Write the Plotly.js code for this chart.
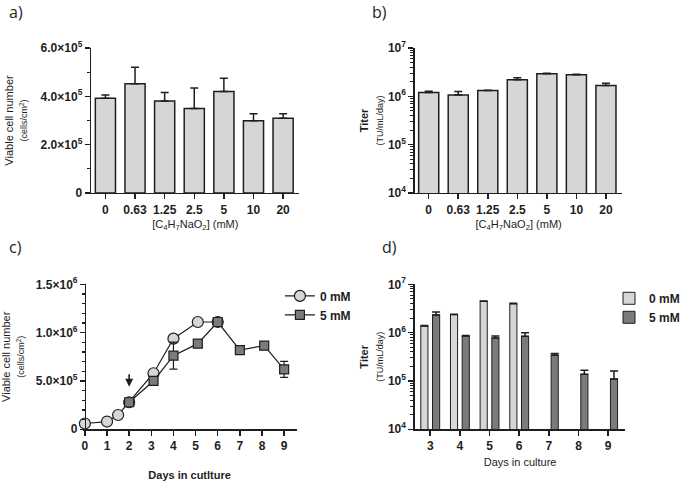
<!DOCTYPE html>
<html>
<head>
<meta charset="utf-8">
<script src="https://cdn.plot.ly/plotly-3.0.1.min.js"></script>
<style>
  body { margin: 0; background: #fff; }
  #myViz { width: 685px; height: 481px; }
</style>
</head>
<body>
<div id="myViz"></div>
<script>
// panel a / b: concentration series
var conc = ['0', '0.63', '1.25', '2.5', '5', '10', '20'];
var cellsA = [392000, 452000, 381000, 350000, 420000, 299000, 309000];
var cellsAErr = [13000, 68000, 35000, 84000, 55000, 29000, 19000];
var titerB = [1200000, 1070000, 1320000, 2200000, 2930000, 2800000, 1680000];
var titerBErr = [80000, 190000, 20000, 220000, 70000, 70000, 190000];

// panel c: growth curves
var days0 = [0, 1, 1.5, 2, 3.1, 4, 5.1, 6];
var cells0 = [60000, 80000, 148000, 280000, 580000, 938000, 1110000, 1110000];
var days5 = [2, 3.1, 4, 5.1, 6, 7, 8.1, 9];
var cells5 = [280000, 500000, 762000, 886000, 1110000, 820000, 866000, 620000];
var cells5Err = [0, 0, 140000, 0, 0, 0, 0, 83000];

// panel d: titer per day
var dayCats0 = ['3', '4', '5', '6'];
var titer0 = [1370000, 2360000, 4450000, 3980000];
var titer0Err = [30000, 50000, 50000, 80000];
var dayCats5 = ['3', '4', '5', '6', '7', '8', '9'];
var titer5 = [2320000, 850000, 775000, 840000, 340000, 137000, 110000];
var titer5Err = [360000, 20000, 75000, 160000, 30000, 29000, 51000];

// tick labels
var linTicksA = [0, 200000, 400000, 600000];
var linLabelsA = ['0', '2.0×10<sup>5</sup>', '4.0×10<sup>5</sup>', '6.0×10<sup>5</sup>'];
var linTicksC = [0, 500000, 1000000, 1500000];
var linLabelsC = ['0', '5.0×10<sup>5</sup>', '1.0×10<sup>6</sup>', '1.5×10<sup>6</sup>'];
var logTicks = [1e4, 1e5, 1e6, 1e7];
var logLabels = ['10<sup>4</sup>', '10<sup>5</sup>', '10<sup>6</sup>', '10<sup>7</sup>'];

var ink = '#1e1e1e';
var light = '#d6d6d6';
var dark = '#7b7b7b';
var zeros = function (n) { return new Array(n).fill(0); };

var errUp = function (arr) {
    return {type: 'data', symmetric: false, array: arr, arrayminus: zeros(arr.length),
            color: ink, thickness: 1.5, width: 4};
};

// minor ticks for the log axes: 2..9 in each decade
var logMinorVals = [];
for (var e = 4; e < 7; e++) {
    for (var m = 2; m <= 9; m++) logMinorVals.push(m * Math.pow(10, e));
}

var barsA = {
    x: conc, y: cellsA, type: 'bar', xaxis: 'x', yaxis: 'y', width: 0.68,
    marker: {color: light, line: {color: ink, width: 1.5}},
    error_y: errUp(cellsAErr), showlegend: false
};
var barsB = {
    x: conc, y: titerB, type: 'bar', xaxis: 'x2', yaxis: 'y2', width: 0.68,
    marker: {color: light, line: {color: ink, width: 1.5}},
    error_y: errUp(titerBErr), showlegend: false
};
var line0 = {
    x: days0, y: cells0, type: 'scatter', mode: 'lines+markers', name: '0 mM',
    xaxis: 'x3', yaxis: 'y3', legend: 'legend2', cliponaxis: false,
    line: {color: ink, width: 1.2},
    marker: {symbol: 'circle', size: 11, color: light, line: {color: ink, width: 1.2}}
};
var line5 = {
    x: days5, y: cells5, type: 'scatter', mode: 'lines+markers', name: '5 mM',
    xaxis: 'x3', yaxis: 'y3', legend: 'legend2', cliponaxis: false,
    line: {color: ink, width: 1.2},
    marker: {symbol: 'square', size: 9, color: dark, line: {color: ink, width: 1.2}},
    error_y: {type: 'data', array: cells5Err, color: ink, thickness: 1.2, width: 4}
};
var barsD0 = {
    x: dayCats0, y: titer0, type: 'bar', name: '0 mM', xaxis: 'x4', yaxis: 'y4',
    marker: {color: light, line: {color: ink, width: 1}},
    error_y: errUp(titer0Err)
};
var barsD5 = {
    x: dayCats5, y: titer5, type: 'bar', name: '5 mM', xaxis: 'x4', yaxis: 'y4',
    marker: {color: dark, line: {color: ink, width: 1}},
    error_y: errUp(titer5Err)
};

var data = [barsA, barsB, line0, line5, barsD0, barsD5];

var tickFont = {family: 'Liberation Sans, Arial', size: 12, color: ink, weight: 'bold'};
var titleFont = {family: 'Liberation Sans, Arial', size: 11, color: ink};

var baseAxis = {
    showline: true, linecolor: ink, linewidth: 1.5, ticks: 'outside', ticklen: 5,
    tickwidth: 1.5, tickcolor: ink, showgrid: false, zeroline: false,
    tickfont: tickFont, automargin: false, fixedrange: true
};
function ax(extra) { return Object.assign({}, baseAxis, extra); }

var concTitle = {text: '[C<sub>4</sub>H<sub>7</sub>NaO<sub>2</sub>] (mM)', font: titleFont, standoff: 4};
var cellTitle = {text: 'Viable cell number<br><span style="font-size:9px">(cells/cm<sup>2</sup>)</span>',
                 font: titleFont, standoff: 10};
var titerTitle = {text: '<b>Titer</b><br><span style="font-size:9px">(TU/mL/day)</span>',
                  font: titleFont, standoff: 2};
var logMinor = {tickmode: 'array', tickvals: logMinorVals, ticks: 'outside',
                ticklen: 3, tickwidth: 1, tickcolor: ink};
var linMinor = {tickmode: 'linear', tick0: 0, dtick: 100000, ticks: 'outside',
                ticklen: 3, tickwidth: 1.2, tickcolor: ink};

var layout = {
    width: 685, height: 481,
    margin: {l: 0, r: 0, t: 0, b: 0},
    paper_bgcolor: '#fff', plot_bgcolor: '#fff',
    barmode: 'group', bargap: 0.21, bargroupgap: 0.39,
    font: {family: 'Liberation Sans, Arial', color: ink},

    xaxis: ax({domain: [0.1401, 0.4599], anchor: 'y', type: 'category',
               range: [-0.48, 6.55], title: concTitle}),
    yaxis: ax({domain: [0.5988, 0.9002], anchor: 'x', range: [0, 600000],
               tickmode: 'array', tickvals: linTicksA, ticktext: linLabelsA,
               minor: linMinor, title: cellTitle}),

    xaxis2: ax({domain: [0.6372, 0.9562], anchor: 'y2', type: 'category',
                range: [-0.47, 6.56], title: concTitle}),
    yaxis2: ax({domain: [0.5988, 0.9002], anchor: 'x2', type: 'log', range: [4, 7],
                tickmode: 'array', tickvals: logTicks, ticktext: logLabels,
                minor: logMinor, title: titerTitle}),

    xaxis3: ax({domain: [0.127, 0.4555], anchor: 'y3', range: [-0.1, 9.56],
                tickmode: 'linear', tick0: 0, dtick: 1,
                title: {text: '<b>Days in cutlture</b>', font: titleFont, standoff: 22}}),
    yaxis3: ax({domain: [0.1075, 0.4089], anchor: 'free', position: 0.1304, range: [0, 1500000],
                tickmode: 'array', tickvals: linTicksC, ticktext: linLabelsC,
                minor: linMinor, title: cellTitle}),

    xaxis4: ax({domain: [0.6372, 0.9606], anchor: 'y4', type: 'category',
                range: [-0.52, 6.58],
                title: {text: 'Days in culture', font: titleFont, standoff: 6}}),
    yaxis4: ax({domain: [0.1075, 0.4089], anchor: 'x4', type: 'log', range: [4, 7],
                tickmode: 'array', tickvals: logTicks, ticktext: logLabels,
                minor: logMinor, title: titerTitle}),

    legend: {x: 0.936, y: 0.41, xanchor: 'left', yanchor: 'top', bgcolor: 'rgba(0,0,0,0)',
             font: {family: 'Liberation Sans, Arial', size: 12, color: ink, weight: 'bold'},
             tracegroupgap: 0, itemwidth: 30},
    legend2: {x: 0.43, y: 0.415, xanchor: 'left', yanchor: 'top', bgcolor: 'rgba(0,0,0,0)',
              font: {family: 'Liberation Sans, Arial', size: 12, color: ink, weight: 'bold'},
              tracegroupgap: 0, itemwidth: 30},

    annotations: [
        {text: 'a)', xref: 'paper', yref: 'paper', x: 0.01, y: 0.975, xanchor: 'left', yanchor: 'middle', showarrow: false, font: {size: 16, family: 'Open Sans', color: ink}},
        {text: 'b)', xref: 'paper', yref: 'paper', x: 0.568, y: 0.975, xanchor: 'left', yanchor: 'middle', showarrow: false, font: {size: 16, family: 'Open Sans', color: ink}},
        {text: 'c)', xref: 'paper', yref: 'paper', x: 0.01, y: 0.486, xanchor: 'left', yanchor: 'middle', showarrow: false, font: {size: 16, family: 'Open Sans', color: ink}},
        {text: 'd)', xref: 'paper', yref: 'paper', x: 0.583, y: 0.486, xanchor: 'left', yanchor: 'middle', showarrow: false, font: {size: 16, family: 'Open Sans', color: ink}},
        {text: '', xref: 'x3', yref: 'y3', x: 2, y: 440000, ax: 0, ay: -14,
         showarrow: true, arrowhead: 2, arrowsize: 1, arrowwidth: 1.6, arrowcolor: ink}
    ]
};

Plotly.newPlot('myViz', data, layout, {displayModeBar: false, staticPlot: true});
</script>
</body>
</html>
